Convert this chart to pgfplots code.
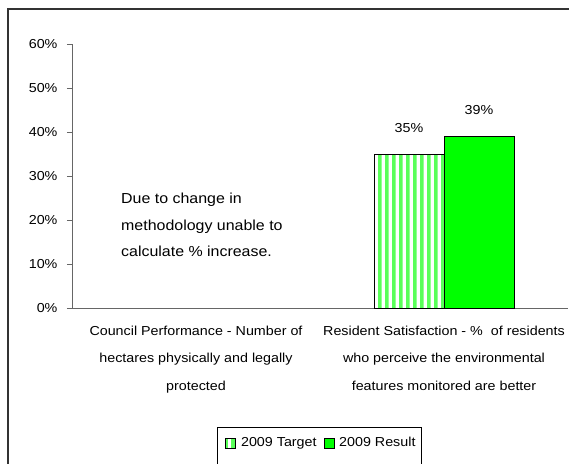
\documentclass[border=0pt]{standalone}
\usepackage{pgfplots}
\pgfplotsset{compat=1.18}
\usepackage{fontspec}
\setmainfont{Liberation Sans}[FakeStretch=1.1]
\usetikzlibrary{patterns}
\definecolor{brightgreen}{HTML}{00FF00}
\pgfdeclarepatternformonly{vstripes}{\pgfpointorigin}{\pgfpoint{7pt}{1pt}}{\pgfpoint{7pt}{1pt}}{%
  \pgfpathrectangle{\pgfpointorigin}{\pgfpoint{4pt}{1pt}}\pgfusepath{fill}}
\begin{document}
\begin{tikzpicture}[x=1pt,y=1pt]
\useasboundingbox (0,0) rectangle (569,463);
\draw[line width=1.3pt, black!80] (8,-20) -- (8,454) -- (600,454);
\draw[line width=0.6pt, black] (217,-10) -- (217,36) -- (421,36) -- (421,-10);
\begin{axis}[
  at={(72pt,155pt)}, anchor=south west,
  scale only axis, width=496pt, height=264pt,
  xmin=0, xmax=2, ymin=0, ymax=60,
  axis x line*=bottom, axis y line*=left,
  axis line style={-, black!60, line width=0.8pt},
  ybar=0pt, bar width=70pt,
  xtick={0.5,1.5},
  xticklabels={{Council Performance - Number of\\hectares physically and legally\\protected},
               {Resident Satisfaction - \%\ \ of residents\\who perceive the environmental\\features monitored are better}},
  x tick style={draw=none},
  xticklabel style={align=center, font=\fontsize{13}{27.5}\selectfont, yshift=-9.5pt},
  extra x ticks={0,1,2},
  extra x tick labels={},
  extra x tick style={tick align=outside, major tick length=6pt, tick style={draw=black!60, line width=0.8pt}},
  ytick={0,10,20,30,40,50,60},
  yticklabels={0\%,10\%,20\%,30\%,40\%,50\%,60\%},
  yticklabel style={font=\fontsize{13}{15}\selectfont, xshift=-6pt},
  y tick style={draw=black!60, line width=0.8pt},
  ytick align=outside, major tick length=5pt,
  nodes near coords={\pgfmathprintnumber[assume math mode=true]{\pgfplotspointmeta}\%},
  every node near coord/.append style={font=\fontsize{13}{15}\selectfont, yshift=18pt},
  legend columns=2,
  legend style={at={(249pt,-135pt)}, anchor=center, draw=none, fill=none,
    inner xsep=3pt, inner ysep=2pt,
    nodes={font=\fontsize{13}{15}\selectfont, inner sep=1pt},
    /tikz/every odd column/.append style={column sep=4pt},
    /tikz/every even column/.append style={column sep=6pt}},
  legend image code/.code={\draw[#1, draw=black, line width=0.6pt] (0pt,-5pt) rectangle (10pt,5pt);},
]
\addplot[draw=black, line width=0.8pt, fill=white, postaction={pattern=vstripes, pattern color=brightgreen}] coordinates {(1.5,35)};
\addplot[draw=black, line width=0.8pt, fill=brightgreen] coordinates {(1.5,39)};
\legend{2009 Target, 2009 Result}
\end{axis}
\node[anchor=north west, align=left, inner sep=0pt, font=\fontsize{14.5}{26.5}\selectfont] at (121,270) {Due to change in\\methodology unable to\\calculate \% increase.};
\end{tikzpicture}
\end{document}
